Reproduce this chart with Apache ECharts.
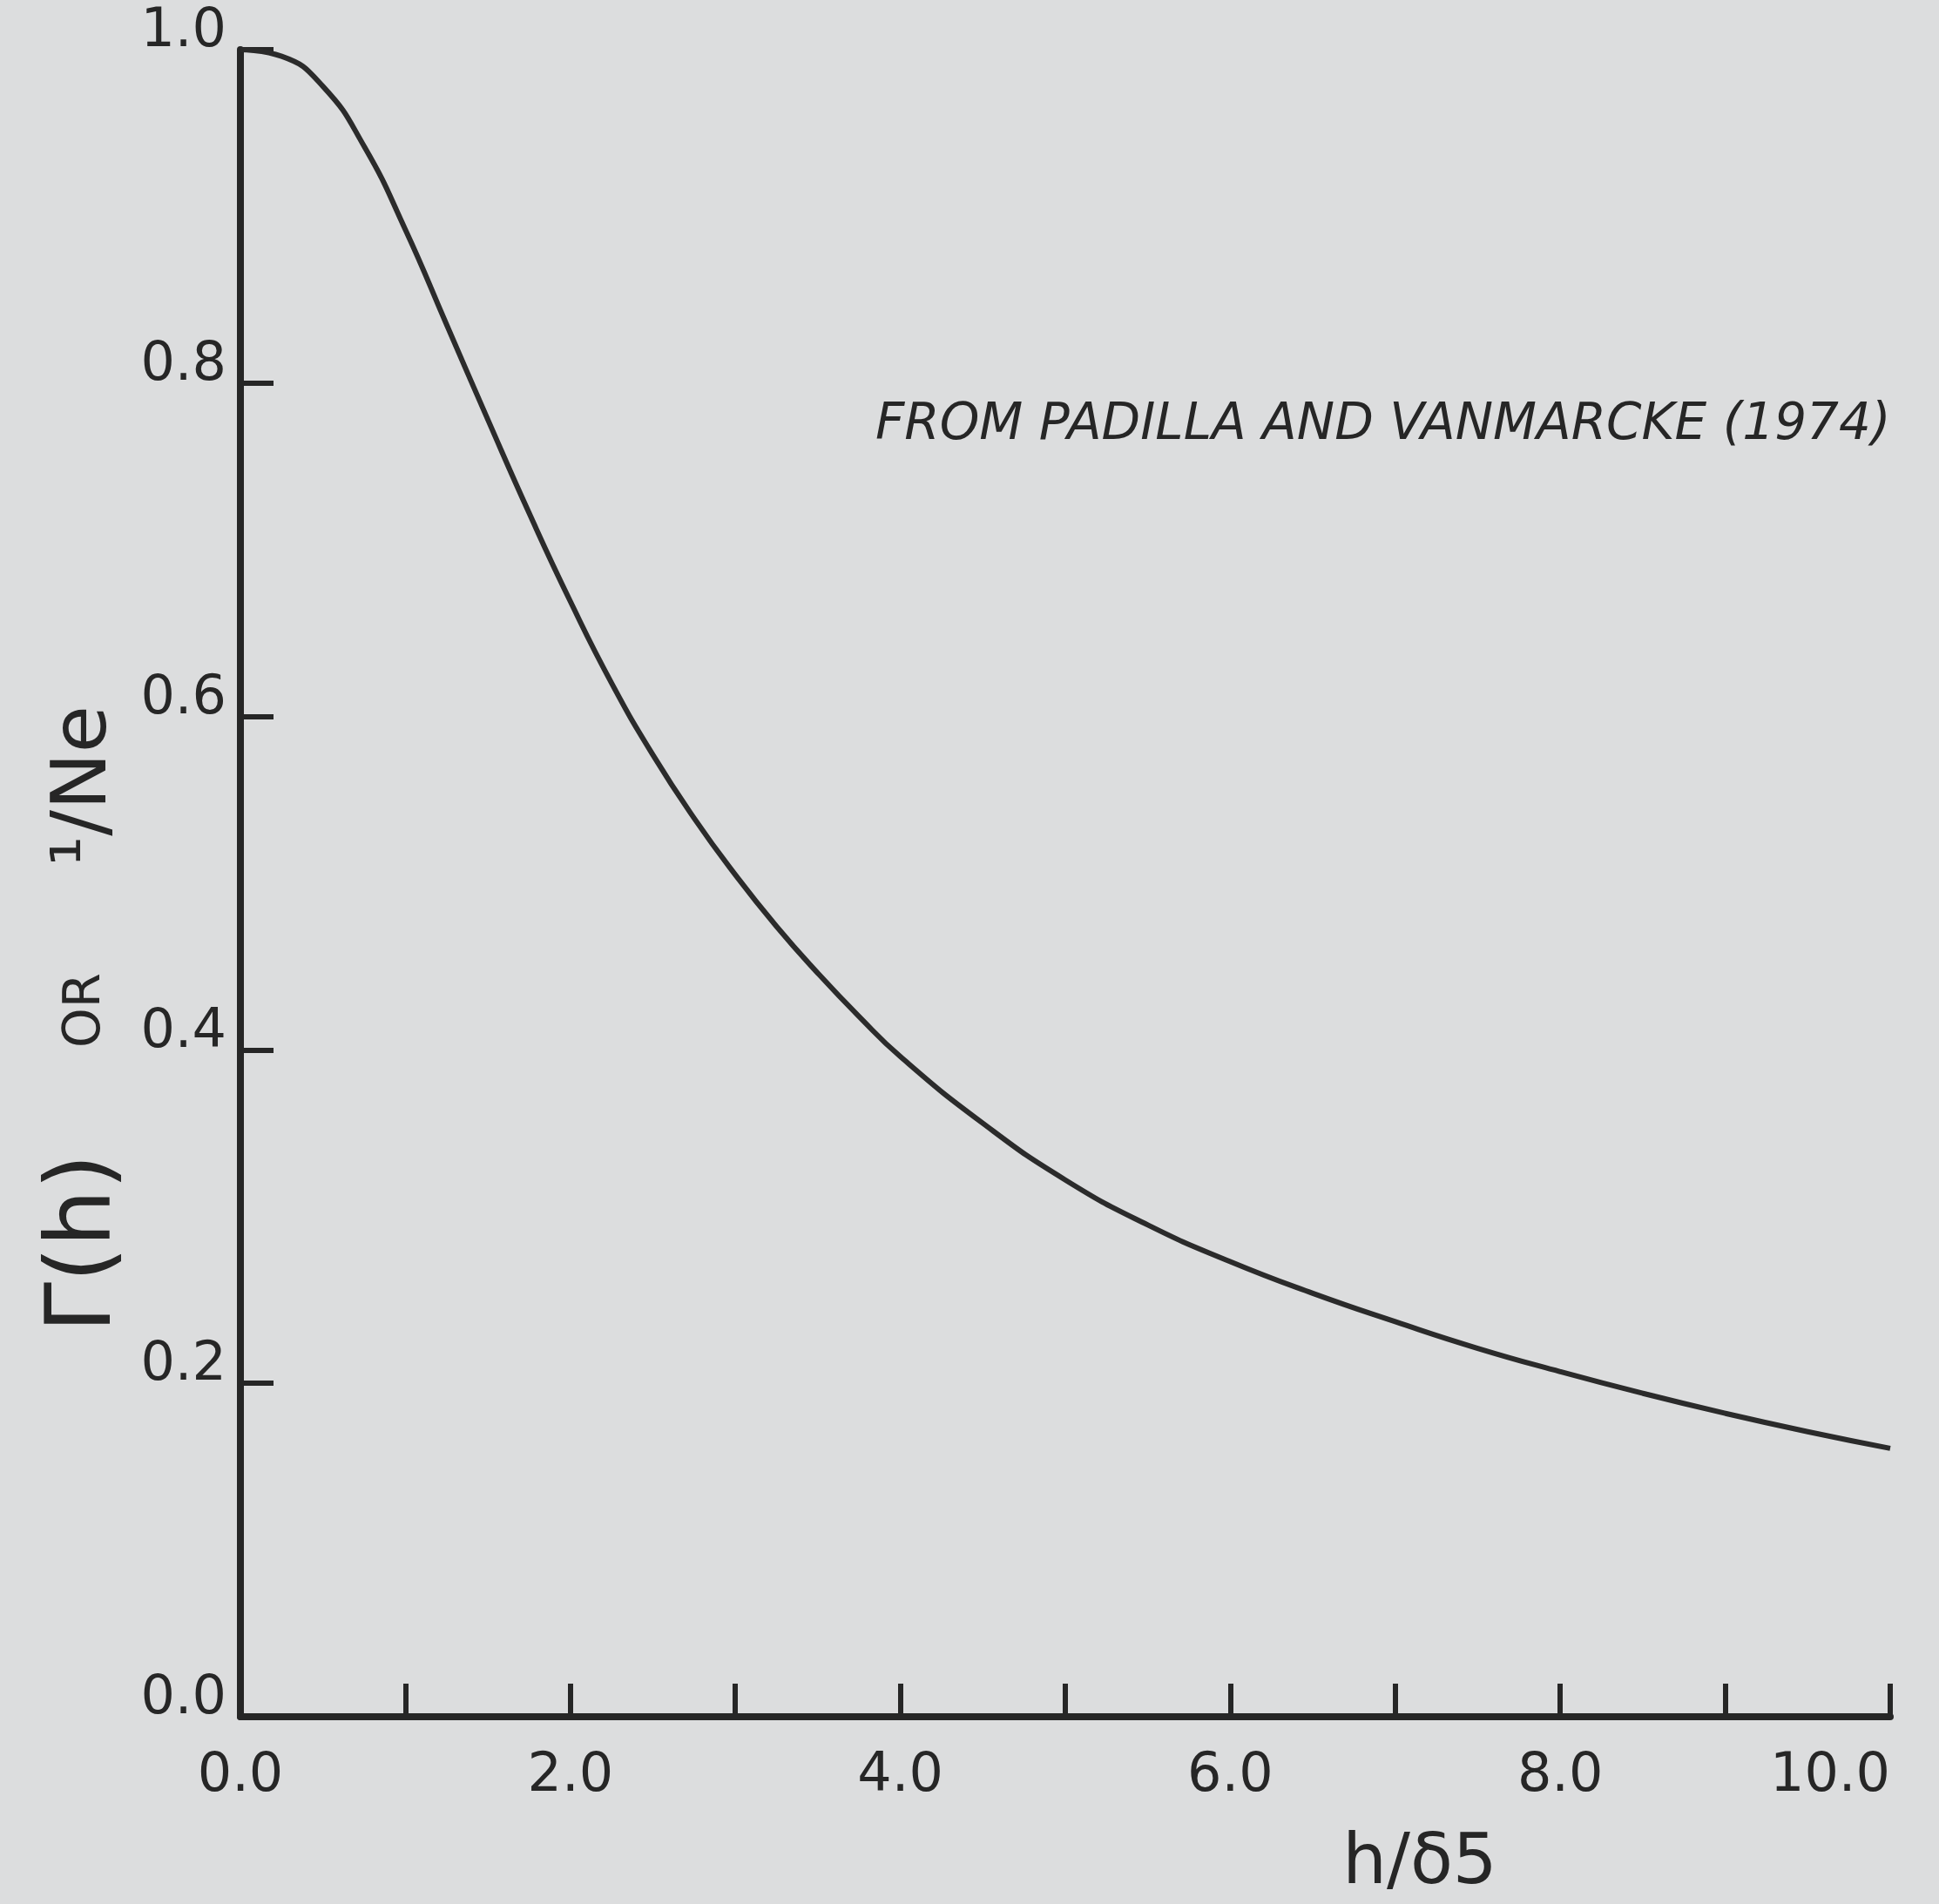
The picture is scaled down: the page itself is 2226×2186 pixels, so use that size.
<!DOCTYPE html>
<html>
<head>
<meta charset="utf-8">
<script src="https://cdn.jsdelivr.net/npm/echarts@6/dist/echarts.min.js"></script>
<style>
  html, body { margin: 0; padding: 0; background: #dcddde; }
  #chart { width: 2226px; height: 2186px; }
</style>
</head>
<body>
<div id="chart"></div>
<script>
// h / delta values and the curve
const hValues = [0, 0.25, 0.5, 0.75, 1.0, 1.25, 1.5, 1.75, 2.0, 2.25, 2.5, 2.75, 3.0, 3.25, 3.5, 3.75, 4.0, 4.5, 5.0, 5.5, 6.0, 6.5, 7.0, 7.5, 8.0, 8.5, 9.0, 9.5, 10.0]
const gammaValues = [1.0, 0.996, 0.978, 0.942, 0.892, 0.835, 0.778, 0.722, 0.669, 0.620, 0.577, 0.539, 0.505, 0.474, 0.446, 0.420, 0.396, 0.356, 0.322, 0.295, 0.273, 0.254, 0.237, 0.221, 0.207, 0.194, 0.182, 0.171, 0.161]
const xTickLabels = ['0.0', '2.0', '4.0', '6.0', '8.0', '10.0']
const yTickLabels = ['0.0', '0.2', '0.4', '0.6', '0.8', '1.0']

const ink = '#262626'
const font = 'DejaVu Sans'

const chart = echarts.init(document.getElementById('chart'))

const options = {
  backgroundColor: '#dcddde',
  animation: false,
  title: {
    text: 'FROM PADILLA AND VANMARCKE (1974)',
    left: 1000,
    top: 455,
    textStyle: { color: ink, fontSize: 58, fontWeight: 'normal', fontFamily: font, fontStyle: 'italic' }
  },
  grid: { left: 276, right: 56, top: 57, bottom: 213 },
  xAxis: {
    type: 'value',
    min: 0,
    max: 10,
    interval: 1,
    name: 'h/δ5',
    nameLocation: 'middle',
    nameGap: 130,
    nameTextStyle: { color: ink, fontSize: 80, fontFamily: font, padding: [0, 0, 0, 814] },
    axisLine: { show: true, onZero: false, lineStyle: { color: ink, width: 8 } },
    axisTick: { show: true, inside: true, length: 38, lineStyle: { color: ink, width: 6 } },
    axisLabel: {
      color: ink,
      fontSize: 62,
      fontFamily: font,
      margin: 38,
      alignMaxLabel: 'right',
      formatter: v => (v % 2 === 0 ? xTickLabels[v / 2] : '')
    },
    splitLine: { show: false }
  },
  yAxis: {
    type: 'value',
    min: 0,
    max: 1,
    interval: 0.2,
    name: '{g|Γ(h)}{o|OR}{n|¹/Ne}',
    nameLocation: 'middle',
    nameGap: 122,
    nameTextStyle: {
      color: ink,
      fontFamily: font,
      padding: [0, 312, 0, 0],
      rich: {
        g: { fontSize: 104, fontFamily: font, color: ink },
        o: { fontSize: 58, fontFamily: font, color: ink, padding: [0, 122, 0, 122] },
        n: { fontSize: 88, fontFamily: font, color: ink }
      }
    },
    axisLine: { show: true, lineStyle: { color: ink, width: 8 } },
    axisTick: { show: true, inside: true, length: 38, lineStyle: { color: ink, width: 6 } },
    axisLabel: {
      color: ink,
      fontSize: 62,
      fontFamily: font,
      margin: 16,
      verticalAlign: 'bottom',
      lineHeight: 40,
      formatter: v => yTickLabels[Math.round(v * 5)]
    },
    splitLine: { show: false }
  },
  series: [
    {
      type: 'line',
      data: hValues.map((h, i) => [h, gammaValues[i]]),
      smooth: 0.5,
      showSymbol: false,
      lineStyle: { color: '#2b2b2b', width: 6 }
    }
  ]
}

chart.setOption(options)
</script>
</body>
</html>
